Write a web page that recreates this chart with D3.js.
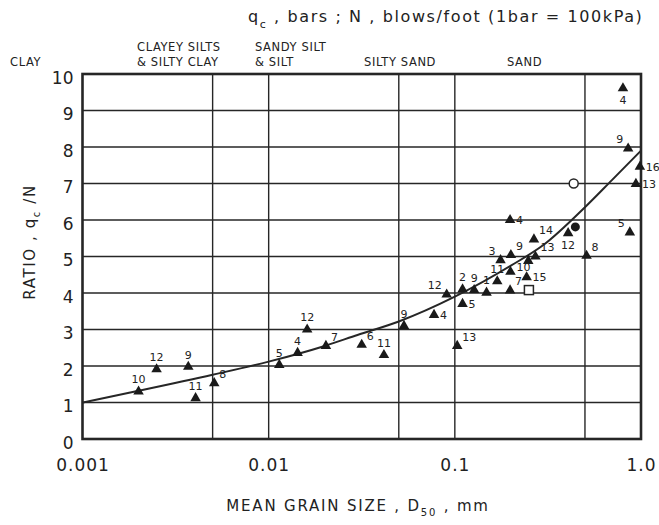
<!DOCTYPE html>
<html><head><meta charset="utf-8">
<script src="https://cdn.jsdelivr.net/npm/d3@7"></script>
<style>
html,body{margin:0;padding:0;background:#fff;}
text{font-family:"DejaVu Sans",sans-serif;fill:#222;}
</style></head>
<body>
<svg id="chart" width="659" height="525"></svg>
<script>
// ---- data ----
const xTicks = [0.001, 0.01, 0.1, 1.0];
const xTickLabels = ["0.001", "0.01", "0.1", "1.0"];
const yTicks = [0,1,2,3,4,5,6,7,8,9,10];
const zoneBounds = [0.005, 0.01, 0.05, 0.1, 0.5];
const zoneNames = [["CLAY"], ["CLAYEY SILTS", "& SILTY CLAY"], ["SANDY SILT", "& SILT"], ["SILTY SAND"], ["SAND"]];

// triangles: mean grain size D50 (mm), ratio qc/N, reference number
const triD50 = [0.002,0.0025,0.0037,0.00405,0.0051,0.0114,0.0143,0.0161,0.0203,0.0316,0.0416,0.0533,0.0773,0.0904,0.103,0.110,0.110,0.127,0.148,0.169,0.176,0.200,0.198,0.199,0.198,0.243,0.248,0.271,0.266,0.406,0.51,0.871,0.80,0.853,0.986,0.939];
const triRatio = [1.30,1.91,1.98,1.12,1.53,2.03,2.36,3.00,2.55,2.58,2.30,3.10,3.40,3.96,2.55,4.10,3.70,4.08,4.01,4.32,4.90,5.04,6.00,4.58,4.07,4.43,4.88,5.00,5.47,5.64,5.02,5.66,9.61,7.96,7.46,6.99];
const triLabel = ["10","12","9","11","8","5","4","12","7","6","11","9","4","12","13","2","5","9","1","11","3","9","4","10","7","15","","13","14","12","8","5","4","9","16","13"];
const triLabelSide = ["n","n","n","n","ne","n","n","n","ne","ne","n","n","e","nw","ne","n","e","n","n","n","nw","ne","e","ene","ne","e","n","ne","ne","s","ne","nw","s","nw","e","e"];

const openCircle = {d50: 0.435, ratio: 7.0};
const filledCircle = {d50: 0.444, ratio: 5.81};
const openSquare = {d50: 0.25, ratio: 4.08};

// fitted curve
const curveD50 = [0.001,0.002,0.005,0.01,0.02,0.03,0.05,0.1,0.2,0.3,0.5,0.7,1.0];
const curveRatio = [1.0,1.32,1.76,2.12,2.55,2.85,3.22,3.9,4.75,5.32,6.35,7.1,7.9];

// ---- drawing ----
const svg = d3.select("#chart");
const W = 659, H = 525;
const m = {left: 82.5, right: 18, top: 74, bottom: 86};
const x = d3.scaleLog().domain([0.001, 1]).range([m.left, W - m.right]);
const y = d3.scaleLinear().domain([0, 10]).range([H - m.bottom, m.top]);
const ink = "#262626";

const g = svg.append("g");

// horizontal grid
g.selectAll("line.h").data(yTicks.slice(1, -1)).join("line")
  .attr("x1", x(0.001)).attr("x2", x(1)).attr("y1", d => y(d)).attr("y2", d => y(d))
  .attr("stroke", ink).attr("stroke-width", 1.3);
// vertical zone lines
g.selectAll("line.v").data(zoneBounds).join("line")
  .attr("x1", d => x(d)).attr("x2", d => x(d)).attr("y1", y(0)).attr("y2", y(10))
  .attr("stroke", ink).attr("stroke-width", 1.4);

// frame
g.append("rect").attr("x", x(0.001)).attr("y", y(10))
  .attr("width", x(1) - x(0.001)).attr("height", y(0) - y(10))
  .attr("fill", "none").attr("stroke", ink).attr("stroke-width", 2.6);

// axes
const yAxis = d3.axisLeft(y).tickValues(yTicks).tickSize(0).tickPadding(9).tickFormat(d3.format("d"));
const ya = svg.append("g").attr("transform", `translate(${x(0.001)},0)`).call(yAxis);
ya.select(".domain").remove();
ya.selectAll("text").attr("font-size", 17).attr("dy", "0.55em").style("font-family", '"DejaVu Sans",sans-serif').attr("fill", ink);

const xAxis = d3.axisBottom(x).tickValues(xTicks).tickSize(0).tickPadding(20)
  .tickFormat((d, i) => xTickLabels[i]);
const xa = svg.append("g").attr("transform", `translate(0,${y(0)})`).call(xAxis);
xa.select(".domain").remove();
xa.selectAll("text").attr("font-size", 17).style("font-family", '"DejaVu Sans",sans-serif').attr("fill", ink).attr("letter-spacing", 1);

// curve
const line = d3.line().x((d, i) => x(curveD50[i])).y((d, i) => y(curveRatio[i])).curve(d3.curveMonotoneX);
g.append("path").datum(curveD50).attr("d", line).attr("fill", "none").attr("stroke", ink).attr("stroke-width", 2);

// triangles
const tri = d3.symbol().type(d3.symbolTriangle).size(48);
const pts = triD50.map((d, i) => ({d50: d, ratio: triRatio[i], label: triLabel[i], side: triLabelSide[i]}));
g.selectAll("path.tri").data(pts).join("path")
  .attr("transform", d => `translate(${x(d.d50)},${y(d.ratio)})`)
  .attr("d", tri).attr("fill", "#1a1a1a");

const off = {n: [0, -12, "middle"], ne: [5, -9, "start"], ene: [6, -5, "start"], e: [6, 0, "start"], nw: [-5, -9, "end"], w: [-8, 0, "end"], s: [0, 12, "middle"]};
g.selectAll("text.lab").data(pts.filter(p => p.label)).join("text")
  .attr("x", d => x(d.d50) + off[d.side][0])
  .attr("y", d => y(d.ratio) + off[d.side][1])
  .attr("dy", "0.35em")
  .attr("text-anchor", d => off[d.side][2])
  .attr("font-size", 11).attr("fill", ink)
  .text(d => d.label);

// other markers
g.append("circle").attr("cx", x(openCircle.d50)).attr("cy", y(openCircle.ratio)).attr("r", 4.5)
  .attr("fill", "#fff").attr("stroke", ink).attr("stroke-width", 1.5);
g.append("circle").attr("cx", x(filledCircle.d50)).attr("cy", y(filledCircle.ratio)).attr("r", 4.5)
  .attr("fill", "#1a1a1a");
g.append("rect").attr("x", x(openSquare.d50) - 4.5).attr("y", y(openSquare.ratio) - 4.5)
  .attr("width", 9).attr("height", 9).attr("fill", "#fff").attr("stroke", ink).attr("stroke-width", 1.5);

// zone labels
const zoneX = [10, 137, 255, 364, 507];
zoneNames.forEach((lines, i) => {
  lines.forEach((t, j) => {
    const rowY = lines.length === 2 ? (j === 0 ? 51 : 66) : 66;
    svg.append("text").attr("x", zoneX[i]).attr("y", rowY).attr("font-size", 11.5)
      .attr("letter-spacing", 0.6).attr("fill", ink).text(t);
  });
});

// top title
const tt = svg.append("text").attr("x", 248).attr("y", 22).attr("font-size", 16).attr("fill", ink)
  .attr("letter-spacing", 1.6);
tt.append("tspan").text("q");
tt.append("tspan").attr("font-size", 11).attr("dy", 6).text("c");
tt.append("tspan").attr("dy", -6).text(" , bars ;  N , blows/foot  (1bar = 100kPa)");

// y axis title
const yt = svg.append("text").attr("transform", `translate(35,242) rotate(-90)`)
  .attr("text-anchor", "middle").attr("font-size", 15).attr("letter-spacing", 1.6).attr("fill", ink);
yt.append("tspan").text("RATIO , q");
yt.append("tspan").attr("font-size", 10).attr("dy", 5).text("c");
yt.append("tspan").attr("dy", -5).text(" /N");

// x axis title
const xt = svg.append("text").attr("x", 358).attr("y", 511).attr("text-anchor", "middle")
  .attr("font-size", 15).attr("letter-spacing", 1.8).attr("fill", ink);
xt.append("tspan").text("MEAN GRAIN SIZE , D");
xt.append("tspan").attr("font-size", 10).attr("dy", 5).text("50");
xt.append("tspan").attr("dy", -5).text(" , mm");
</script>
</body></html>
